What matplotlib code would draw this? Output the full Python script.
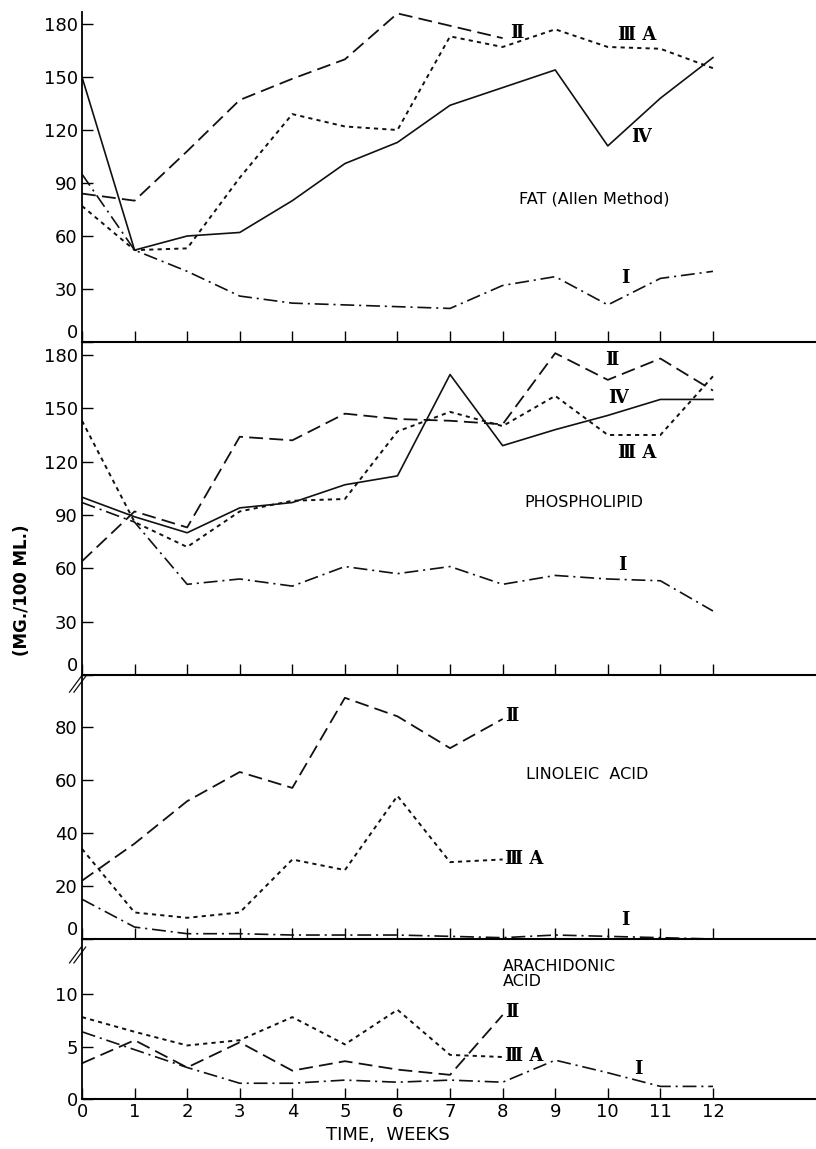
import matplotlib
matplotlib.use("Agg")
import matplotlib.pyplot as plt

plt.rcParams['font.family'] = ['DejaVu Sans']
plt.rcParams['lines.scale_dashes'] = False

weeks = list(range(13))
weeks_short = list(range(9))

# FAT (Allen Method)
fat_I = [95, 52, 40, 26, 22, 21, 20, 19, 32, 37, 21, 36, 40]
fat_II = [84, 80, 108, 137, 149, 160, 186, 179, 172]
fat_IIIA = [77, 52, 53, 93, 129, 122, 120, 173, 167, 177, 167, 166, 155]
fat_IV = [150, 52, 60, 62, 80, 101, 113, 134, 144, 154, 111, 138, 161]

# PHOSPHOLIPID
phos_I = [97, 86, 51, 54, 50, 61, 57, 61, 51, 56, 54, 53, 36]
phos_II = [64, 92, 83, 134, 132, 147, 144, 143, 141, 181, 166, 178, 160]
phos_IIIA = [143, 86, 72, 92, 98, 99, 137, 148, 140, 157, 135, 135, 168]
phos_IV = [100, 89, 80, 94, 97, 107, 112, 169, 129, 138, 146, 155, 155]

# LINOLEIC ACID
lin_I = [15, 4.5, 2, 2, 1.5, 1.5, 1.5, 1, 0.5, 1.5, 1, 0.5, 0]
lin_II = [22, 36, 52, 63, 57, 91, 84, 72, 83]
lin_IIIA = [34, 10, 8, 10, 30, 26, 54, 29, 30]

# ARACHIDONIC ACID
ara_I = [6.4, 4.7, 3.0, 1.5, 1.5, 1.8, 1.6, 1.8, 1.6, 3.7, 2.5, 1.2, 1.2]
ara_II = [3.4, 5.6, 3.0, 5.4, 2.7, 3.6, 2.8, 2.3, 8.0]
ara_IIIA = [7.8, 6.4, 5.1, 5.6, 7.8, 5.2, 8.5, 4.2, 4.0]

STY_I = dict(color='#111111', lw=1.2, dashes=(10, 3.5, 1.5, 3.5))
STY_II = dict(color='#111111', lw=1.3, dashes=(10, 4.5))
STY_IIIA = dict(color='#111111', lw=1.4, dashes=(3, 3))
STY_IV = dict(color='#111111', lw=1.2, linestyle='-')

ROMAN = dict(fontsize=13, family=['DejaVu Serif', 'DejaVu Sans'], weight='bold', va='center')
NAME = dict(fontsize=11.5, va='center')

W, H = 816, 1149
fig = plt.figure(figsize=(W / 100, H / 100), dpi=100)

left = 82 / W
panels = [(12, 342), (342, 675), (675, 939), (939, 1099)]
axes = []
for top, bot in panels:
    ax = fig.add_axes([left, 1 - bot / H, 1 - left, (bot - top) / H])
    axes.append(ax)

ax1, ax2, ax3, ax4 = axes
xmax = (816 - 82) / 52.58

ylims = [(0, 186.8), (0, 187.3), (0, 99.6), (0, 15.24)]
yticks = [range(0, 181, 30), range(0, 181, 30), range(0, 81, 20), [0, 5, 10]]
for ax, yl, yt in zip(axes, ylims, yticks):
    ax.set_xlim(0, xmax)
    ax.set_ylim(*yl)
    ax.set_yticks(list(yt))
    ax.set_xticks(weeks)
    ax.spines['top'].set_visible(False)
    ax.spines['right'].set_visible(False)
    ax.spines['left'].set_linewidth(1.3)
    ax.spines['bottom'].set_linewidth(1.5)
    ax.tick_params(axis='both', direction='in', length=8, width=1.0,
                   labelsize=13, pad=3)
    ax.patch.set_alpha(0)
for ax in axes[:3]:
    ax.tick_params(axis='x', labelbottom=False)
    # zero label sits just above the axis line, as in the original
    ax.get_yticklabels()[0].set_va('bottom')

# panel 1
ax1.plot(weeks, fat_I, **STY_I)
ax1.plot(weeks_short, fat_II, **STY_II)
ax1.plot(weeks, fat_IIIA, **STY_IIIA)
ax1.plot(weeks, fat_IV, **STY_IV)
ax1.text(8.15, 175, 'Ⅱ', **ROMAN)
ax1.text(10.2, 174, 'Ⅲ A', **ROMAN)
ax1.text(10.45, 116, 'Ⅳ', **ROMAN)
ax1.text(10.25, 36, 'Ⅰ', **ROMAN)
ax1.text(9.75, 81, 'FAT (Allen Method)', ha='center', **NAME)

# panel 2
ax2.plot(weeks, phos_I, **STY_I)
ax2.plot(weeks, phos_II, **STY_II)
ax2.plot(weeks, phos_IIIA, **STY_IIIA)
ax2.plot(weeks, phos_IV, **STY_IV)
ax2.text(9.95, 177, 'Ⅱ', **ROMAN)
ax2.text(10.0, 156, 'Ⅳ', **ROMAN)
ax2.text(10.2, 125, 'Ⅲ A', **ROMAN)
ax2.text(10.2, 62, 'Ⅰ', **ROMAN)
ax2.text(9.55, 97, 'PHOSPHOLIPID', ha='center', **NAME)

# panel 3
ax3.plot(weeks, lin_I, **STY_I)
ax3.plot(weeks_short, lin_II, **STY_II)
ax3.plot(weeks_short, lin_IIIA, **STY_IIIA)
ax3.text(8.05, 84, 'Ⅱ', **ROMAN)
ax3.text(8.05, 30, 'Ⅲ A', **ROMAN)
ax3.text(10.25, 7, 'Ⅰ', **ROMAN)
ax3.text(9.6, 62, 'LINOLEIC  ACID', ha='center', **NAME)

# panel 4
ax4.plot(weeks, ara_I, **STY_I)
ax4.plot(weeks_short, ara_II, **STY_II)
ax4.plot(weeks_short, ara_IIIA, **STY_IIIA)
ax4.text(8.05, 8.3, 'Ⅱ', **ROMAN)
ax4.text(8.05, 4.1, 'Ⅲ A', **ROMAN)
ax4.text(10.5, 2.9, 'Ⅰ', **ROMAN)
ax4.text(8.0, 11.9, 'ARACHIDONIC\nACID', ha='left', linespacing=1.0, **NAME)

# axis break marks, a little below each panel top
for ax, ymid in ((ax3, 0.965), (ax4, 0.9)):
    half = 0.03 * 264 / ax.bbox.height
    for dx in (-0.006, 0.0):
        ax.plot([-0.011 + dx, 0.005 + dx], [ymid - half, ymid + half],
                transform=ax.transAxes, color='#111111', lw=0.9, clip_on=False)

fig.text(22 / W, 1 - 590 / H, '(MG./100 ML.)', rotation=90, fontsize=12,
         weight='bold', ha='center', va='center')
fig.text(388 / W, 1 - 1135 / H, 'TIME,  WEEKS', fontsize=13, ha='center', va='center')

fig.savefig('out.png', dpi=100)
